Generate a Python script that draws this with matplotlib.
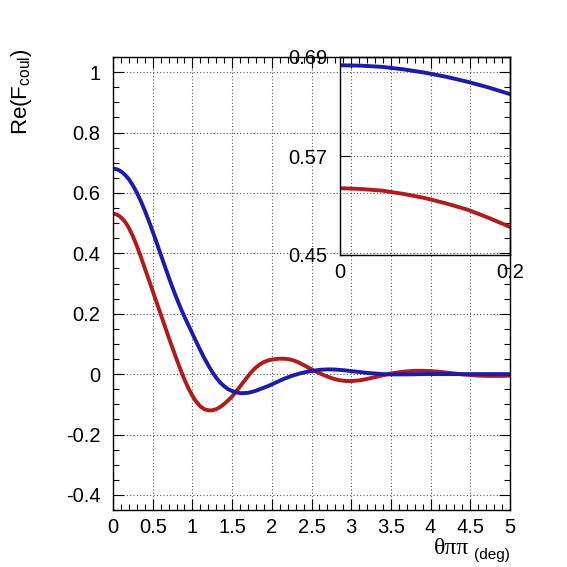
import matplotlib
matplotlib.use('Agg')
from matplotlib import pyplot as plt
from matplotlib.ticker import MultipleLocator, FixedLocator, FuncFormatter

plt.rcParams['font.family'] = ['Liberation Sans', 'DejaVu Sans']
plt.rcParams['mathtext.fontset'] = 'custom'
plt.rcParams['mathtext.rm'] = 'Liberation Sans'
plt.rcParams['axes.unicode_minus'] = False

# angle in degrees
theta = [0.0, 0.025, 0.05, 0.075, 0.1, 0.125, 0.15, 0.175, 0.2, 0.25, 0.3, 0.35, 0.4, 0.45,
         0.5, 0.55, 0.6, 0.65, 0.7, 0.75, 0.8, 0.85, 0.9, 0.95,
         1.0, 1.05, 1.1, 1.15, 1.2, 1.25, 1.3, 1.35, 1.4, 1.45,
         1.5, 1.55, 1.6, 1.65, 1.7, 1.75, 1.8, 1.85, 1.9, 1.95,
         2.0, 2.05, 2.1, 2.15, 2.2, 2.25, 2.3, 2.35, 2.4, 2.45,
         2.5, 2.55, 2.6, 2.65, 2.7, 2.75, 2.8, 2.85, 2.9, 2.95,
         3.0, 3.1, 3.2, 3.3, 3.4, 3.5, 3.6, 3.7, 3.8, 3.9,
         4.0, 4.1, 4.2, 4.3, 4.4, 4.5, 4.6, 4.7, 4.8, 4.9, 5.0]

re_blue = [0.680, 0.6795, 0.678, 0.675, 0.671, 0.666, 0.660, 0.653, 0.645, 0.625, 0.601, 0.573, 0.542, 0.508,
           0.472, 0.435, 0.397, 0.359, 0.322, 0.286, 0.252, 0.220, 0.190, 0.162,
           0.134, 0.106, 0.079, 0.053, 0.029, 0.007, -0.012, -0.028, -0.040, -0.050,
           -0.056, -0.060, -0.063, -0.063, -0.062, -0.059, -0.055, -0.050, -0.045, -0.040,
           -0.034, -0.028, -0.022, -0.016, -0.011, -0.006, -0.002, 0.002, 0.005, 0.008,
           0.010, 0.012, 0.014, 0.015, 0.0155, 0.0155, 0.015, 0.014, 0.013, 0.0115,
           0.010, 0.007, 0.004, 0.002, 0.000, -0.001, -0.001, -0.001, -0.0005, 0.000,
           0.000, 0.000, 0.000, 0.000, 0.000, 0.000, 0.000, 0.000, 0.000, 0.000, 0.000]

re_red = [0.531, 0.530, 0.528, 0.524, 0.519, 0.5125, 0.505, 0.495, 0.484, 0.457, 0.425, 0.389, 0.351, 0.313,
          0.275, 0.237, 0.199, 0.161, 0.123, 0.086, 0.050, 0.015, -0.018, -0.047,
          -0.072, -0.092, -0.107, -0.116, -0.120, -0.120, -0.116, -0.109, -0.099, -0.087,
          -0.074, -0.058, -0.041, -0.024, -0.007, 0.009, 0.022, 0.032, 0.040, 0.045,
          0.048, 0.050, 0.051, 0.051, 0.050, 0.047, 0.043, 0.037, 0.030, 0.023,
          0.016, 0.009, 0.003, -0.003, -0.008, -0.013, -0.017, -0.020, -0.022, -0.023,
          -0.023, -0.021, -0.016, -0.010, -0.004, 0.002, 0.006, 0.009, 0.011, 0.011,
          0.010, 0.008, 0.005, 0.002, -0.001, -0.003, -0.005, -0.006, -0.006, -0.006, -0.005]

blue = '#1a1ab4'
red = '#b41a1a'
fmt = FuncFormatter(lambda v, p: '%g' % round(v, 3))
grid_kw = dict(color='0.35', linewidth=0.8, linestyle=(0, (1, 2)))

fig = plt.figure(figsize=(5.67, 5.67), dpi=100)

# main pad
ax = fig.add_axes([113/567, 57/567, 397/567, 453/567])
ax.plot(theta, re_red, color=red, lw=2.8)
ax.plot(theta, re_blue, color=blue, lw=2.8)
ax.set_xlim(0, 5)
ax.set_ylim(-0.45, 1.05)
ax.xaxis.set_major_locator(MultipleLocator(0.5))
ax.xaxis.set_minor_locator(MultipleLocator(0.1))
ax.yaxis.set_major_locator(MultipleLocator(0.2))
ax.yaxis.set_minor_locator(MultipleLocator(0.05))
ax.xaxis.set_major_formatter(fmt)
ax.yaxis.set_major_formatter(fmt)
ax.tick_params(which='both', direction='in', top=True, right=True, labelsize=14.5, width=0.8)
ax.tick_params(which='major', length=8)
ax.tick_params(which='minor', length=4)
ax.tick_params(axis='x', pad=6)
ax.tick_params(axis='y', pad=9)
ax.grid(True, which='major', **grid_kw)
for s in ax.spines.values():
    s.set_linewidth(1.0)

# zoom inset, transparent
ins = fig.add_axes([340/567, 312/567, 170/567, 198/567])
ins.patch.set_alpha(0)
ins.plot(theta, re_red, color=red, lw=2.8)
ins.plot(theta, re_blue, color=blue, lw=2.8)
ins.set_xlim(0, 0.2)
ins.set_ylim(0.45, 0.69)
ins.xaxis.set_major_locator(FixedLocator([0, 0.2]))
ins.yaxis.set_major_locator(FixedLocator([0.45, 0.57, 0.69]))
ins.xaxis.set_major_formatter(fmt)
ins.yaxis.set_major_formatter(fmt)
ins.tick_params(direction='in', labelsize=14.5, length=7, width=0.8)
ins.tick_params(axis='x', pad=6)
ins.tick_params(axis='y', pad=9)
ins.grid(True, **grid_kw)
for s in ins.spines.values():
    s.set_linewidth(1.0)

# axis titles, ROOT style
fig.text(22/567, 1 - 48/567, r'Re(F$_{\mathrm{coul}}$)', rotation=90,
         ha='center', va='top', fontsize=16)
fig.text(469/567, 1 - 554/567, 'θππ', ha='right', va='baseline',
         fontsize=17, family=['Liberation Serif', 'DejaVu Serif'])
fig.text(510/567, 1 - 559/567, '(deg)', ha='right', va='baseline', fontsize=11)

fig.savefig('out.png', dpi=100)
